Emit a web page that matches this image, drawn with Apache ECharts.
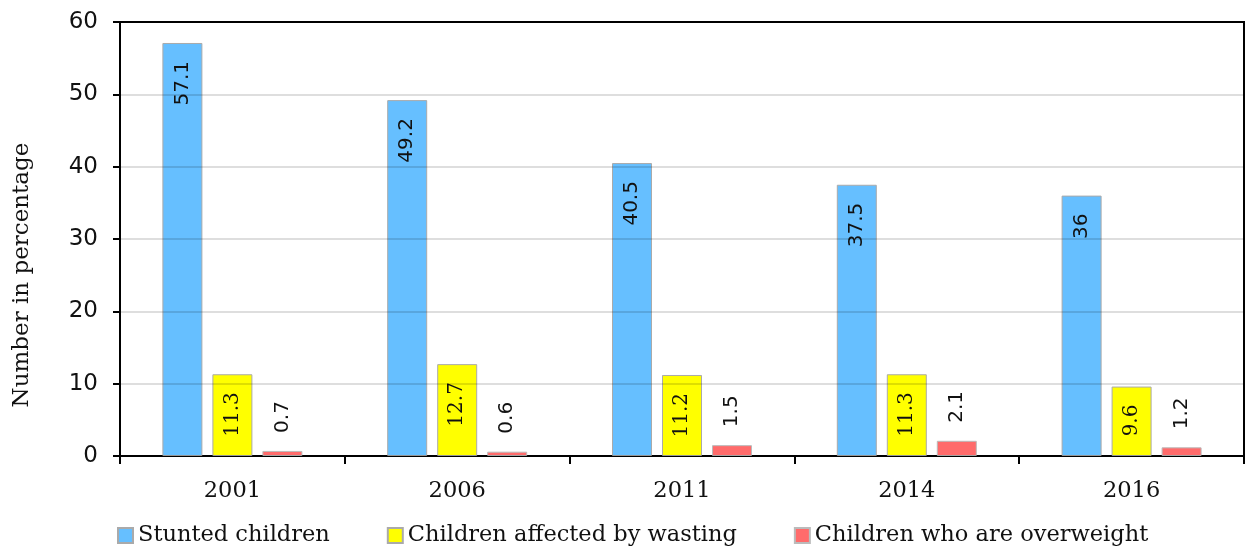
<!DOCTYPE html>
<html>
<head>
<meta charset="utf-8">
<script src="https://cdn.jsdelivr.net/npm/echarts@6/dist/echarts.min.js"></script>
<style>html,body{margin:0;padding:0;background:#fff}#c{width:1248px;height:548px}</style>
</head>
<body>
<div id="c"></div>
<script>
const categories = ['2001', '2006', '2011', '2014', '2016'];
const stunted = [57.1, 49.2, 40.5, 37.5, 36];
const wasting = [11.3, 12.7, 11.2, 11.3, 9.6];
const overweight = [0.7, 0.6, 1.5, 2.1, 1.2];
const seriesNames = ['Stunted children', 'Children affected by wasting', 'Children who are overweight'];
const yTicks = [0, 10, 20, 30, 40, 50, 60];
const yTitle = 'Number in percentage';

const serif = 'DejaVu Serif';
const sans = 'DejaVu Sans';

function insideLabel(font) {
  return {
    show: true, position: 'insideTop', rotate: 90, align: 'right', verticalAlign: 'middle',
    distance: 18, fontFamily: font, fontSize: 20, color: '#111'
  };
}

const chart = echarts.init(document.getElementById('c'));
chart.setOption({
  animation: false,
  grid: { left: 120, right: 4, top: 22, bottom: 92, outerBoundsMode: 'none', containLabel: false, show: true, borderColor: '#000', borderWidth: 2, backgroundColor: 'transparent' },
  graphic: [{
    type: 'text', x: 22, y: 275, rotation: Math.PI / 2,
    style: { text: yTitle, font: '23px "DejaVu Serif"', fill: '#111', align: 'center', verticalAlign: 'middle' }
  }],
  legend: {
    top: 519, left: 112, itemWidth: 15, itemHeight: 15, itemGap: 57,
    icon: 'rect',
    textStyle: { fontFamily: serif, fontSize: 22.5, color: '#111' },
    data: seriesNames
  },
  xAxis: {
    type: 'category', data: categories,
    axisLine: { lineStyle: { color: '#000', width: 2 } },
    axisTick: { show: true, length: 8, alignWithLabel: false, lineStyle: { color: '#000', width: 2 } },
    axisLabel: { fontFamily: serif, fontSize: 22.5, color: '#111', margin: 24 }
  },
  yAxis: {
    type: 'value', min: yTicks[0], max: yTicks[yTicks.length - 1], interval: 10,
    z: 5,
    axisLine: { show: true, lineStyle: { color: '#000', width: 2 } },
    axisTick: { show: true, length: 7, lineStyle: { color: '#000', width: 2 } },
    axisLabel: { fontFamily: sans, fontSize: 23, color: '#111', margin: 22 },
    splitLine: { show: true, lineStyle: { color: 'rgba(0,0,0,0.13)', width: 2 } }
  },
  series: [
    {
      name: seriesNames[0], type: 'bar', data: stunted, barWidth: 40, barGap: '25%',
      itemStyle: { color: '#66BFFF', borderColor: '#aaa', borderWidth: 1 },
      label: insideLabel(sans)
    },
    {
      name: seriesNames[1], type: 'bar', data: wasting, barWidth: 40, barGap: '25%',
      itemStyle: { color: '#FFFF00', borderColor: '#aaa', borderWidth: 1 },
      label: insideLabel(serif)
    },
    {
      name: seriesNames[2], type: 'bar', data: overweight, barWidth: 40, barGap: '25%',
      itemStyle: { color: '#FF6B6B', borderColor: '#bbb', borderWidth: 1 },
      label: { show: true, position: 'top', rotate: 90, align: 'left', verticalAlign: 'middle', distance: 18, fontFamily: sans, fontSize: 20, color: '#111' }
    }
  ]
});
</script>
</body>
</html>
